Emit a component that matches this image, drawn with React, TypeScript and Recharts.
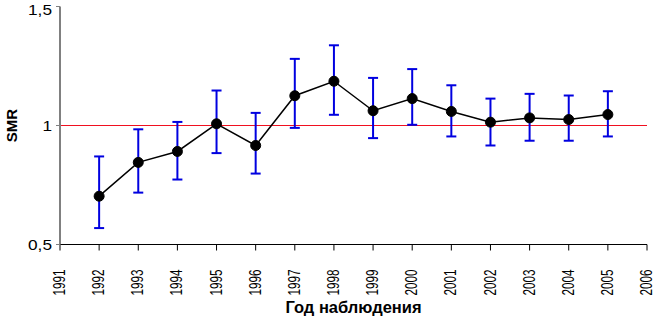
import { ErrorBar, Label, Line, LineChart, ReferenceLine, XAxis, YAxis } from "recharts";

const years = [1992, 1993, 1994, 1995, 1996, 1997, 1998, 1999, 2000, 2001, 2002, 2003, 2004, 2005];
const smr = [0.703, 0.845, 0.891, 1.007, 0.916, 1.125, 1.186, 1.062, 1.113, 1.059, 1.014, 1.032, 1.025, 1.046];
const lower = [0.569, 0.718, 0.773, 0.884, 0.798, 0.99, 1.045, 0.947, 1.003, 0.954, 0.916, 0.936, 0.936, 0.954];
const upper = [0.87, 0.984, 1.015, 1.147, 1.053, 1.28, 1.337, 1.2, 1.237, 1.169, 1.113, 1.133, 1.126, 1.144];
const yearTicks = [1991, 1992, 1993, 1994, 1995, 1996, 1997, 1998, 1999, 2000, 2001, 2002, 2003, 2004, 2005, 2006];
const smrTicks = [0.5, 1, 1.5];

const data = years.map((year, i) => ({
  year,
  smr: smr[i],
  ci: [smr[i] - lower[i], upper[i] - smr[i]],
}));

const font = "'Liberation Sans', Arial, sans-serif";

// the source image is a bit stretched sideways, so the ticks are scaled a little
function YearTick({ x, y, payload }: any) {
  return (
    <g transform={`translate(${x}, ${y + 17}) rotate(-90) scale(0.9, 1.2)`}>
      <text x={0} y={0} textAnchor="end" dominantBaseline="central" fontFamily={font} fontSize={13} fill="#000">
        {payload.value}
      </text>
    </g>
  );
}

function SmrTick({ x, y, payload }: any) {
  return (
    <g transform={`translate(${x}, ${y}) scale(1.15, 1)`}>
      <text x={0} y={0} textAnchor="end" dominantBaseline="central" fontFamily={font} fontSize={15} fill="#000">
        {String(payload.value).replace(".", ",")}
      </text>
    </g>
  );
}

export default function App() {
  return (
    <div style={{ position: "absolute", left: 0, top: 0, background: "#fff" }}>
      {/* half-pixel top margin / axis height keep the horizontal 1px lines crisp */}
      <LineChart width={654} height={317} data={data} margin={{ top: 6.5, right: 7, bottom: 0, left: 0 }}>
        <XAxis
          dataKey="year"
          type="number"
          domain={[1991, 2006]}
          ticks={yearTicks}
          interval={0}
          height={72.5}
          tickSize={6}
          tick={<YearTick />}
          axisLine={{ stroke: "#000" }}
          tickLine={{ stroke: "#000" }}
        >
          <Label
            value="Год наблюдения"
            position="insideBottom"
            offset={4}
            style={{ fontFamily: font, fontSize: 16.5, fontWeight: "bold", fill: "#000" }}
          />
        </XAxis>
        <YAxis
          type="number"
          domain={[0.5, 1.5]}
          ticks={smrTicks}
          width={60}
          tickSize={4}
          tickMargin={4}
          tick={<SmrTick />}
          axisLine={{ stroke: "#808080", strokeWidth: 2 }}
          tickLine={{ stroke: "#808080" }}
        >
          <Label
            value="SMR"
            angle={-90}
            position="insideLeft"
            offset={12}
            style={{ fontFamily: font, fontSize: 15, fontWeight: "bold", fill: "#000", textAnchor: "middle" }}
          />
        </YAxis>
        <ReferenceLine y={1} stroke="#f01020" strokeWidth={1} />
        <Line
          dataKey="smr"
          stroke="#000"
          strokeWidth={1.5}
          dot={{ r: 5, fill: "#000", stroke: "#000", strokeWidth: 1 }}
          isAnimationActive={false}
        >
          <ErrorBar dataKey="ci" direction="y" width={5} stroke="#0000e0" strokeWidth={2} />
        </Line>
      </LineChart>
    </div>
  );
}
